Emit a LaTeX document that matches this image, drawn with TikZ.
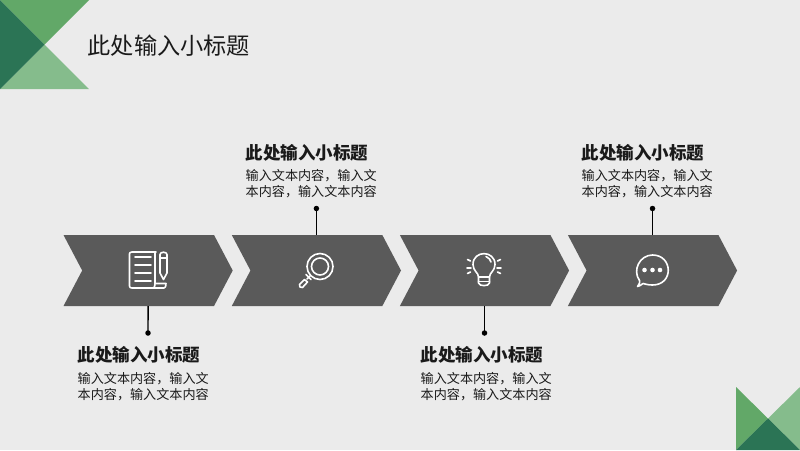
\documentclass[tikz,border=0pt]{standalone}
\usepackage{fontspec}
\setmainfont{Noto Sans CJK SC}
\usetikzlibrary{shapes.symbols}
\definecolor{bg}{HTML}{EBEBEB}
\definecolor{chev}{HTML}{5A5A5A}
\definecolor{gmid}{HTML}{62A868}
\definecolor{glight}{HTML}{85BC8C}
\definecolor{gdark}{HTML}{2B7455}
\definecolor{ink}{HTML}{1A1A1A}
\tikzset{
 chevron/.style={shape=signal,signal from=west,signal to=east,signal pointer angle=124.5,fill=chev,draw=none,minimum width=169.2pt,minimum height=71pt,inner sep=0pt,outer sep=0pt},
 dotnode/.style={circle,fill=black,draw=none,minimum size=5.5pt,inner sep=0pt},
 link/.style={draw=black,line width=1.4pt},
 icon/.style={draw=white,line width=1.6pt,line cap=round,line join=round},
 headtext/.style={anchor=west,inner sep=0pt,text=ink,font=\fontsize{17.5}{20}\selectfont\bfseries},
 bodytext/.style={anchor=north west,inner sep=0pt,align=left,text=ink,font=\fontsize{13.1}{16}\selectfont},
 titletext/.style={anchor=west,inner sep=0pt,text=ink,font=\fontsize{23.2}{26}\selectfont}
}
\begin{document}
\begin{tikzpicture}[x=1pt,y=-1pt]
\useasboundingbox (0,0) rectangle (800,450);
\fill[bg] (0,0) rectangle (800,450);
% corners
\fill[gmid] (0,0) -- (89,0) -- (44.5,44.5) -- cycle;
\fill[glight] (0,89) -- (89,89) -- (44.5,44.5) -- cycle;
\fill[gdark] (0,0) -- (44.5,44.5) -- (0,89) -- cycle;
\fill[gmid] (736,387) -- (768,418.5) -- (736,450) -- cycle;
\fill[glight] (800,387) -- (768,418.5) -- (800,450) -- cycle;
\fill[gdark] (736,450) -- (768,418.5) -- (800,450) -- cycle;
% title
\node[titletext] (title) at (87.5,46) {此处输入小标题};
% chevrons
\node[chevron] (c1) at (148.1,270.5) {};
\node[chevron] (c2) at (316.4,270.5) {};
\node[chevron] (c3) at (484.5,270.5) {};
\node[chevron] (c4) at (652.5,270.5) {};
% connectors
\node[dotnode] (d1) at (148,333) {};
\node[dotnode] (d2) at (316.4,208.5) {};
\node[dotnode] (d3) at (484.5,333) {};
\node[dotnode] (d4) at (652.5,208.5) {};
\draw[link] (c1.south) -- (d1.center);
\draw[link] (c2.north) -- (d2.center);
\draw[link] (c3.south) -- (d3.center);
\draw[link] (c4.north) -- (d4.center);
% texts
\node[headtext] (h1) at (77.5,355) {此处输入小标题};
\node[bodytext] (b1) at (77.5,372.5) {输入文本内容，输入文\\本内容，输入文本内容};
\node[headtext] (h2) at (245.5,153) {此处输入小标题};
\node[bodytext] (b2) at (245.5,169.5) {输入文本内容，输入文\\本内容，输入文本内容};
\node[headtext] (h3) at (420.5,355) {此处输入小标题};
\node[bodytext] (b3) at (420.5,372.5) {输入文本内容，输入文\\本内容，输入文本内容};
\node[headtext] (h4) at (581.5,153) {此处输入小标题};
\node[bodytext] (b4) at (581.5,169.5) {输入文本内容，输入文\\本内容，输入文本内容};
% icon 1: document and pencil
\draw[icon] (156,252) -- (132,252) .. controls (130,252) and (129.5,253) .. (129.5,254) -- (129.5,286) .. controls (129.5,287.5) and (130.5,288) .. (132,288) -- (164,288) .. controls (165.5,288) and (166,286) .. (166,283.5) -- (155,283.5) .. controls (155,286) and (154.5,288) .. (153,288);
\draw[icon] (155,252) -- (155,283.5);
\foreach \yy in {257,265,273,281}{\draw[icon] (135,\yy) -- (151,\yy);}
\draw[icon] (160,254.5) .. controls (160,251.5) and (167,251.5) .. (167,254.5) -- (167,273) -- (163.5,279.5) -- (160,273) -- cycle;
\draw[icon] (160,258) -- (167,258);
% icon 2: magnifier
\draw[icon] (320,266.5) circle (13);
\draw[icon] (320,266.5) circle (8.5);
\draw[icon] (310,276) -- (307,279);
\draw[icon] (306,274.5) -- (311,279.5);
\draw[icon] (304.5,279.5) -- (299.5,284.5) .. controls (298.5,286) and (300.5,288.5) .. (302.5,287.5) -- (307.5,282) -- cycle;
% icon 3: bulb
\draw[icon] (478.5,277) .. controls (478.5,272.5) and (473,271) .. (473,264.5) .. controls (473,250) and (495,250) .. (495,264.5) .. controls (495,271) and (489.5,272.5) .. (489.5,277) -- cycle;
\draw[icon] (478.5,277) -- (478.5,283) .. controls (479,286.5) and (489,286.5) .. (489.5,283) -- (489.5,277);
\draw[icon] (478.5,281.5) -- (489.5,281.5);
\draw[icon] (486,256.5) .. controls (489,257.5) and (490.5,260) .. (491,262);
\draw[icon] (467,268) -- (471,268);
\draw[icon] (497,268) -- (501,268);
\draw[icon] (467.5,259.5) -- (470.5,261);
\draw[icon] (500.5,259.5) -- (497.5,261);
\draw[icon] (467.5,273.5) -- (470.5,272);
\draw[icon] (500.5,273.5) -- (497.5,272);
% icon 4: speech bubble
\draw[icon] (637.5,286.5) .. controls (640,283) and (640,281.5) .. (639.5,280.5) .. controls (632,270) and (640,255) .. (652.5,255) .. controls (673,255) and (674,285) .. (652.5,285) .. controls (648,285) and (645,284) .. (643,283.5) .. controls (641,285) and (639,286.5) .. (637.5,286.5) -- cycle;
\fill[white] (644.5,270) circle (2.3);
\fill[white] (652.5,270) circle (2.3);
\fill[white] (660,270) circle (2.3);
\end{tikzpicture}
\end{document}
